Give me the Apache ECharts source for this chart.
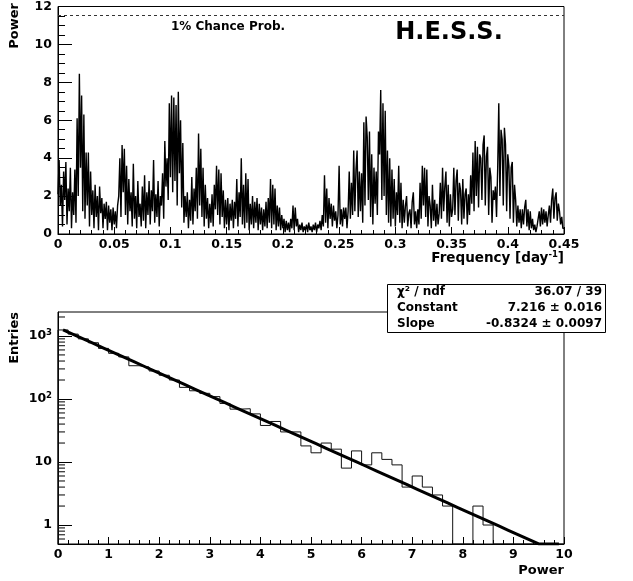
<!DOCTYPE html>
<html><head><meta charset="utf-8">
<script src="https://cdn.jsdelivr.net/npm/echarts@6/dist/echarts.min.js"></script>
<style>html,body{margin:0;padding:0;background:#fff}#c{width:633px;height:581px}</style>
</head><body><div id="c"></div>
<script>
// ---------- data ----------
const freqStep = 0.001;            // periodogram frequency spacing [day^-1]
const powerValues = [
 2.1,3.9,1.5,2.6,0.4,3.3,1.8,3.8,0.5,2.4,
 1.2,3.5,0.3,2.2,1.0,3.4,0.6,6.1,2.0,8.45,
 3.5,7.3,1.2,6.3,0.8,4.3,1.5,4.3,0.4,3.3,
 1.0,2.3,0.3,2.6,0.9,2.0,0.2,2.5,1.1,1.9,
 0.3,1.6,0.8,1.7,0.2,1.5,0.6,1.3,0.2,1.4,
 0.5,1.2,0.3,1.5,2.0,4.0,0.9,4.7,2.2,4.5,
 1.0,3.6,0.5,2.9,1.2,2.2,0.4,3.7,0.8,2.0,
 0.3,2.8,0.9,1.6,0.4,2.5,0.7,3.1,0.3,2.2,
 1.0,2.8,0.5,2.3,1.2,3.9,0.6,2.1,0.9,2.8,
 0.4,2.0,1.5,3.2,0.8,4.9,2.5,4.0,1.8,6.9,
 3.0,7.3,2.2,7.2,2.8,6.8,1.5,7.5,3.2,6.0,
 1.4,4.8,0.6,2.0,0.9,2.2,0.3,1.8,0.7,3.0,
 0.5,2.4,1.2,3.5,0.8,5.3,1.5,4.5,0.9,3.5,
 0.4,2.6,0.8,1.9,0.3,1.6,0.6,2.1,0.4,2.6,
 1.3,3.6,1.0,3.4,0.5,3.2,0.9,2.3,0.3,1.8,
 0.5,1.9,0.2,1.6,0.7,1.8,0.3,1.7,0.8,2.9,
 0.4,2.2,0.9,4.0,0.5,2.6,0.3,3.2,0.6,2.9,
 0.2,1.6,0.5,2.0,0.3,1.7,0.6,1.9,0.2,1.6,
 0.5,1.4,0.2,1.3,0.4,1.7,0.3,1.9,0.6,2.9,
 0.3,2.6,0.5,2.4,0.2,1.5,0.4,1.4,0.2,1.0,
 0.3,0.8,0.1,0.7,0.2,0.6,0.1,0.8,0.3,1.5,
 0.2,1.4,0.4,0.8,0.1,0.5,0.2,0.6,0.1,0.4,
 0.2,0.5,0.1,0.6,0.2,0.4,0.1,0.5,0.2,0.6,
 0.1,0.5,0.3,0.7,0.2,1.0,0.4,3.1,0.6,2.4,
 0.3,1.9,0.8,1.6,0.4,1.5,0.7,1.2,0.3,1.0,
 3.6,0.5,1.3,0.4,1.4,0.8,1.4,0.3,1.2,3.3,
 0.8,2.7,1.0,4.4,1.2,3.4,4.4,0.9,3.3,1.2,
 3.2,0.6,5.9,1.5,6.2,5.1,1.8,5.4,0.9,4.2,
 0.5,3.5,1.6,3.3,1.0,5.4,4.2,7.6,1.8,6.9,
 2.0,6.5,1.0,4.4,0.6,4.0,0.4,3.4,0.8,2.9,
 0.4,2.2,1.0,3.6,0.6,2.7,0.3,1.8,0.6,1.5,
 2.0,0.4,1.1,1.3,0.3,1.7,2.2,0.5,1.2,0.3,
 1.3,0.5,2.7,0.8,3.6,1.5,3.5,0.9,3.4,0.4,
 2.0,1.5,0.3,2.6,0.7,1.8,0.4,1.6,0.5,1.1,
 2.7,0.8,3.5,1.2,2.5,3.3,0.6,2.6,0.4,2.1,
 0.9,1.3,3.5,1.0,2.8,3.4,0.7,2.7,2.3,0.5,
 2.9,0.8,2.1,2.4,0.5,2.1,1.0,3.1,1.6,4.3,
 1.2,4.9,2.0,4.6,1.4,4.2,4.0,1.8,4.7,5.2,
 1.5,4.1,4.6,1.0,3.5,3.0,0.6,2.3,1.8,2.5,
 0.9,3.4,6.9,2.0,5.5,5.0,1.5,5.6,4.7,1.2,
 4.2,3.6,0.8,3.5,3.8,0.6,2.6,1.8,0.4,1.5,
 0.6,1.3,0.3,1.3,0.5,1.4,1.8,0.4,1.3,0.2,
 1.2,0.3,0.8,0.2,0.5,0.1,0.4,0.3,1.2,0.4,
 1.4,0.5,1.3,0.6,1.2,0.4,1.0,1.5,0.6,1.8,
 2.4,0.8,1.9,2.2,0.7,1.6,1.2,0.5,0.9,0.3,
 0.3
];
const chanceLevel = 11.55;         // 1% chance probability power
const chanceLabel = '1% Chance Prob.';
const experimentLabel = 'H.E.S.S.';

const histBinWidth = 0.2;          // bins of the power distribution
const histCounts = [
 1245,1070,900,780,635,530,465,337,322,278,
 238,200,153,135,123,109,85,69,70,58,
 38,44,30,30,18,14,20,16,8,15,
 9,14,11,9,4,6,4,3,2,0,
 0,2,1,0,0,0,0,0,0,0
];
const fitConstant = 7.216;
const fitSlope = -0.8324;
const statLabels = ['\u03C7\u00B2 / ndf', 'Constant', 'Slope'];
const statValues = ['36.07 / 39', '7.216 \u00B1 0.016', '-0.8324 \u00B1 0.0097'];

// ---------- build ----------
const FONT = 'DejaVu Sans';
const logMin = 0.5, logMax = 2400;

const periodogram = powerValues.map((p, i) => [+(i * freqStep).toFixed(4), p]);

const histLine = [];
histCounts.forEach((c, i) => {
  const v = Math.max(c, logMin);
  histLine.push([i * histBinWidth, v], [(i + 1) * histBinWidth, v]);
});
histLine.unshift([0, logMin]);

const fitLine = histCounts.map((c, i) => {
  const x = (i + 0.5) * histBinWidth;
  return [x, Math.max(Math.exp(fitConstant + fitSlope * x), logMin)];
});

const minorLog = [];
for (let d = -1; d <= 3; d++) {
  for (let k = 2; k <= 9; k++) {
    const v = k * Math.pow(10, d);
    if (v > logMin && v < logMax) minorLog.push([0, v]);
  }
}

const lbl = {color: '#000', fontFamily: FONT, fontWeight: 'bold', fontSize: 12.5};

const chart = echarts.init(document.getElementById('c'), null, {renderer: 'canvas'});
chart.setOption({
  animation: false,
  grid: [
    {left: 58, top: 3, right: 69, bottom: 347, show: true, borderColor: '#000', borderWidth: 1},
    {left: 58, top: 312, right: 69, bottom: 37, show: true, borderColor: '#000', borderWidth: 1}
  ],
  xAxis: [
    {gridIndex: 0, type: 'value', min: 0, max: 0.45, interval: 0.05,
     axisLine: {lineStyle: {color: '#000', width: 1}},
     axisTick: {inside: true, length: 7, lineStyle: {color: '#000'}},
     minorTick: {show: true, splitNumber: 5, length: 4, lineStyle: {color: '#000'}},
     splitLine: {show: false},
     axisLabel: Object.assign({margin: 4}, lbl)},
    {gridIndex: 1, type: 'value', min: 0, max: 10, interval: 1,
     axisLine: {lineStyle: {color: '#000', width: 1}},
     axisTick: {inside: true, length: 7, lineStyle: {color: '#000'}},
     minorTick: {show: true, splitNumber: 5, length: 4, lineStyle: {color: '#000'}},
     splitLine: {show: false},
     axisLabel: Object.assign({margin: 4}, lbl)}
  ],
  yAxis: [
    {gridIndex: 0, type: 'value', min: 0, max: 12, interval: 2,
     axisLine: {lineStyle: {color: '#000', width: 1}},
     axisTick: {inside: true, length: 14, lineStyle: {color: '#000'}},
     minorTick: {show: true, splitNumber: 4, length: 7, lineStyle: {color: '#000'}},
     splitLine: {show: false},
     axisLabel: Object.assign({margin: 6}, lbl)},
    {gridIndex: 1, type: 'log', logBase: 10, min: logMin, max: logMax,
     axisLine: {show: true, lineStyle: {color: '#000', width: 1}},
     axisTick: {inside: true, length: 14, lineStyle: {color: '#000'}},
     splitLine: {show: false},
     axisLabel: Object.assign({margin: 6, showMinLabel: false, showMaxLabel: false,
       formatter: function (v) {
         const l = Math.log10(v), n = Math.round(l);
         if (Math.abs(l - n) > 1e-6) return '';
         if (n === 0) return '1';
         if (n === 1) return '10';
         return '10{s|' + n + '}';
       },
       rich: {s: {fontSize: 8.5, fontWeight: 'bold', fontFamily: FONT, color: '#000', verticalAlign: 'top', padding: [0, 0, 6, 0]}}
     }, lbl)}
  ],
  series: [
    {type: 'line', xAxisIndex: 0, yAxisIndex: 0, data: periodogram, symbol: 'none',
     lineStyle: {color: '#000', width: 1.4}, silent: true,
     markLine: {silent: true, symbol: 'none', label: {show: false},
       lineStyle: {type: [3, 3], color: '#333', width: 1},
       data: [{yAxis: chanceLevel}]}},
    {type: 'line', xAxisIndex: 1, yAxisIndex: 1, data: histLine, symbol: 'none',
     lineStyle: {color: '#111', width: 1}, silent: true},
    {type: 'line', xAxisIndex: 1, yAxisIndex: 1, data: fitLine, symbol: 'none',
     lineStyle: {color: '#000', width: 3}, silent: true, z: 3},
    {type: 'custom', xAxisIndex: 1, yAxisIndex: 1, data: minorLog, silent: true,
     renderItem: function (params, api) {
       const p = api.coord([api.value(0), api.value(1)]);
       return {type: 'line', shape: {x1: p[0], y1: p[1], x2: p[0] + 7, y2: p[1]},
               style: {stroke: '#000', lineWidth: 1}};
     }}
  ],
  graphic: [
    {type: 'text', x: 228, y: 27, style: {text: chanceLabel, fill: '#000',
      font: 'bold 12px ' + FONT, textAlign: 'center', textVerticalAlign: 'middle'}},
    {type: 'text', x: 449, y: 33, style: {text: experimentLabel, fill: '#000',
      font: 'bold 24px ' + FONT, textAlign: 'center', textVerticalAlign: 'middle'}},
    {type: 'text', x: 15, y: 3, rotation: Math.PI / 2, style: {text: 'Power', fill: '#000',
      font: 'bold 13px ' + FONT, textAlign: 'right', textVerticalAlign: 'middle'}},
    {type: 'text', x: 15, y: 312, rotation: Math.PI / 2, style: {text: 'Entries', fill: '#000',
      font: 'bold 13px ' + FONT, textAlign: 'right', textVerticalAlign: 'middle'}},
    {type: 'text', x: 564, y: 258, style: {text: '{a|Frequency [day}{s|-1}{a|]}', fill: '#000',
      textAlign: 'right', textVerticalAlign: 'middle',
      rich: {a: {font: 'bold 13.5px ' + FONT, fill: '#000'},
             s: {font: 'bold 8.5px ' + FONT, fill: '#000', verticalAlign: 'top', padding: [0, 0, 6, 0]}}}},
    {type: 'text', x: 564, y: 571, style: {text: 'Power', fill: '#000',
      font: 'bold 13px ' + FONT, textAlign: 'right', textVerticalAlign: 'middle'}},
    {type: 'rect', shape: {x: 387.5, y: 284.5, width: 218, height: 48},
      style: {fill: '#fff', stroke: '#000', lineWidth: 1}, z: 10},
    ...statLabels.map((t, i) => ({type: 'text', x: 397, y: 291.5 + i * 16, z: 11,
      style: {text: t, fill: '#000', font: 'bold 12px ' + FONT, textAlign: 'left', textVerticalAlign: 'middle'}})),
    ...statValues.map((t, i) => ({type: 'text', x: 602, y: 291.5 + i * 16, z: 11,
      style: {text: t, fill: '#000', font: 'bold 12px ' + FONT, textAlign: 'right', textVerticalAlign: 'middle'}}))
  ]
});
</script>
</body></html>
